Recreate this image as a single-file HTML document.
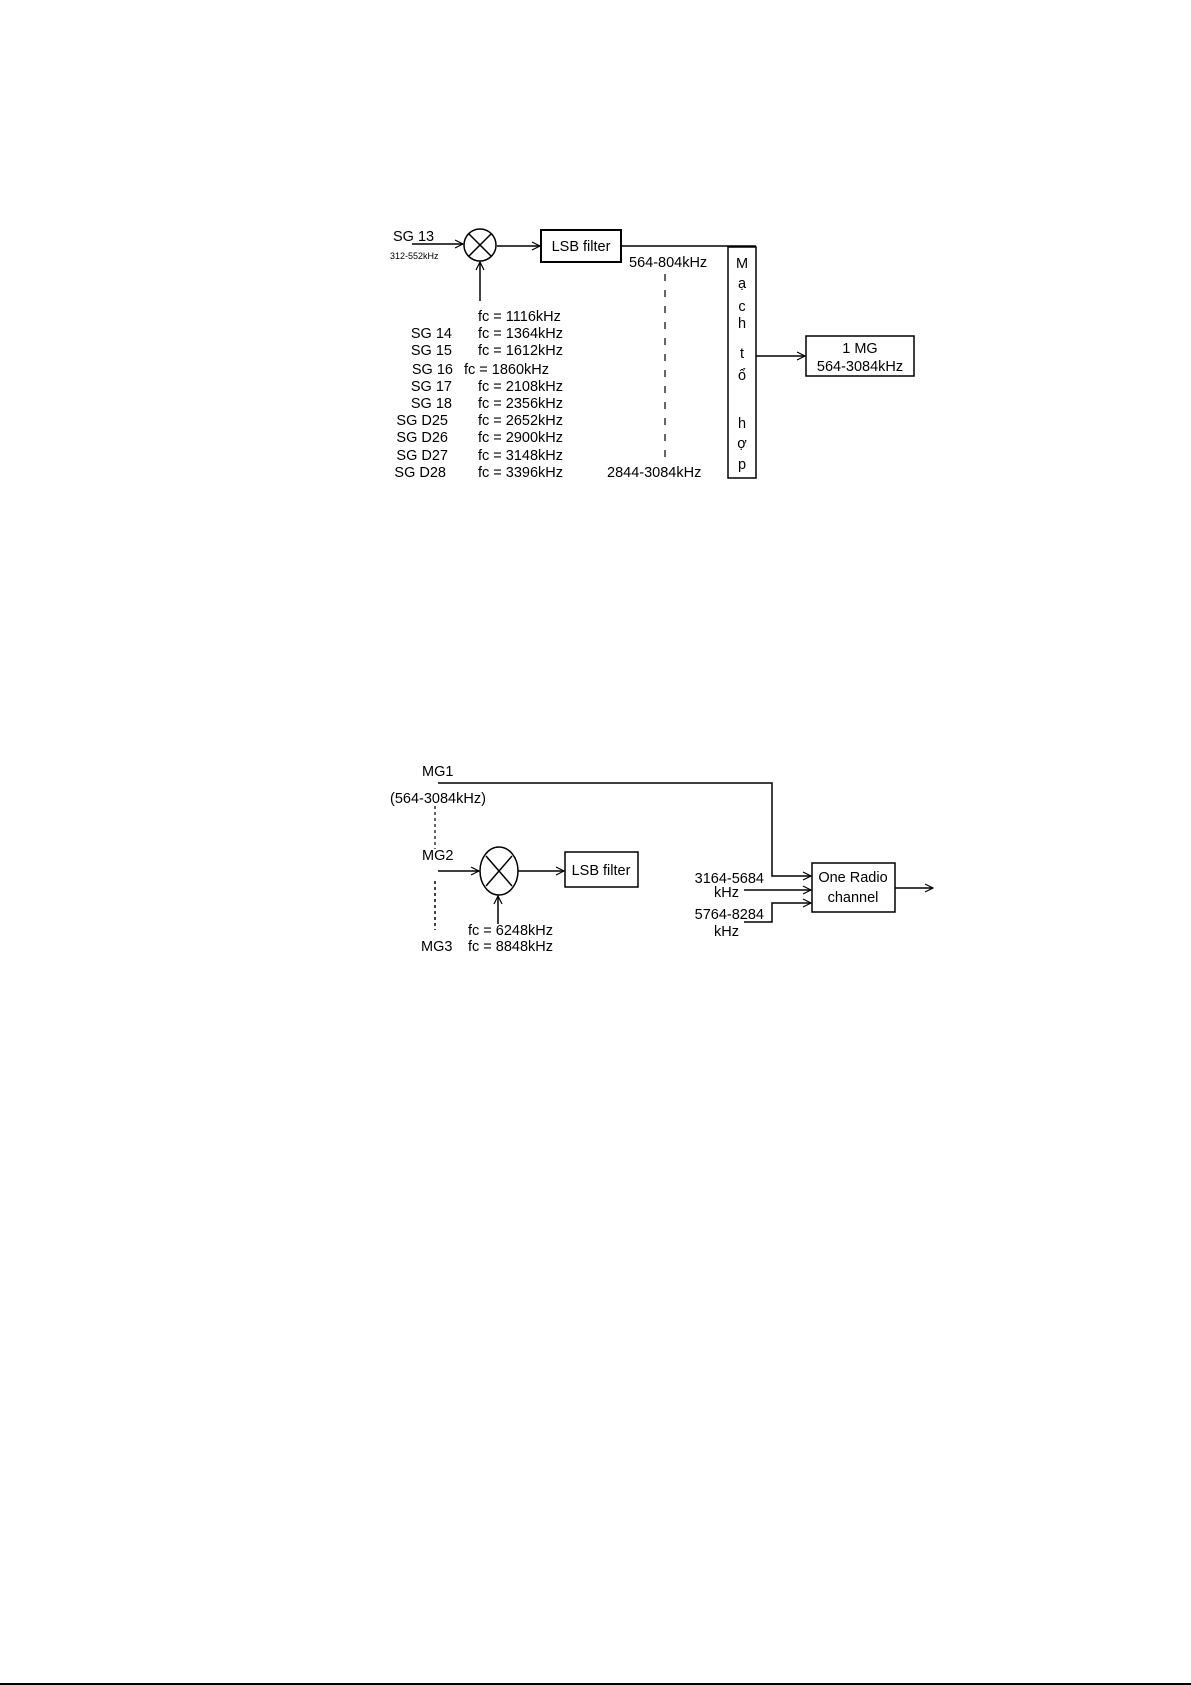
<!DOCTYPE html>
<html><head><meta charset="utf-8"><style>
html,body{margin:0;padding:0;background:#fff}
svg{display:block}
text{font-family:"Liberation Sans",sans-serif;fill:#000}
</style></head><body>
<svg width="1191" height="1685" viewBox="0 0 1191 1685" xmlns="http://www.w3.org/2000/svg">
<defs>
<marker id="a" markerWidth="10" markerHeight="10" refX="9" refY="5" orient="auto" markerUnits="userSpaceOnUse">
<path d="M1,1 L9,5 L1,9" fill="none" stroke="#000" stroke-width="1.2"/>
</marker>
</defs>
<g stroke="#000" stroke-width="1.5" fill="none">
<line x1="412" y1="244" x2="463" y2="244" marker-end="url(#a)"/>
<circle cx="480" cy="245" r="16"/>
<line x1="469" y1="234" x2="491" y2="256"/><line x1="491" y1="234" x2="469" y2="256"/>
<line x1="480" y1="301" x2="480" y2="262" marker-end="url(#a)"/>
<line x1="497" y1="246" x2="540" y2="246" marker-end="url(#a)"/>
<rect x="541" y="230" width="80" height="32" stroke-width="2"/>
<line x1="621" y1="246" x2="756" y2="246"/>
<rect x="728" y="247" width="28" height="231"/>
<line x1="665" y1="274" x2="665" y2="457" stroke-dasharray="7,9" stroke-width="1.2"/>
<line x1="756" y1="356" x2="805" y2="356" marker-end="url(#a)"/>
<rect x="806" y="336" width="108" height="40"/>
<polyline points="438,783 772,783 772,876 811,876" marker-end="url(#a)"/>
<line x1="435" y1="806" x2="435" y2="849" stroke-dasharray="3,3" stroke-width="1.2"/>
<line x1="435" y1="881" x2="435" y2="930" stroke-dasharray="3,3" stroke-width="1.5"/>
<line x1="438" y1="871" x2="479" y2="871" marker-end="url(#a)"/>
<ellipse cx="499" cy="871" rx="19" ry="24"/>
<line x1="486" y1="856" x2="512" y2="886"/><line x1="512" y1="856" x2="486" y2="886"/>
<line x1="518" y1="871" x2="564" y2="871" marker-end="url(#a)"/>
<rect x="565" y="852" width="73" height="35"/>
<line x1="498" y1="924" x2="498" y2="896" marker-end="url(#a)"/>
<rect x="812" y="863" width="83" height="49"/>
<line x1="744" y1="890" x2="811" y2="890" marker-end="url(#a)"/>
<polyline points="744,922 772,922 772,903 811,903" marker-end="url(#a)"/>
<line x1="895" y1="888" x2="933" y2="888" marker-end="url(#a)"/>
<line x1="0" y1="1684" x2="1191" y2="1684" stroke-width="2"/>
</g>
<g font-size="14.5">
<text x="393" y="241">SG 13</text>
<text x="390" y="259" font-size="9">312-552kHz</text>
<text x="581" y="251" text-anchor="middle">LSB filter</text>
<text x="629" y="267">564-804kHz</text>
<text x="607" y="477">2844-3084kHz</text>
<g text-anchor="middle">
<text x="742" y="268">M</text><text x="742" y="288">ạ</text><text x="742" y="311">c</text><text x="742" y="328">h</text>
<text x="742" y="358">t</text><text x="742" y="380">ổ</text><text x="742" y="428">h</text><text x="742" y="448">ợ</text><text x="742" y="469">p</text>
<text x="860" y="353">1 MG</text><text x="860" y="371">564-3084kHz</text>
</g>
<g>
<text x="478" y="321">fc = 1116kHz</text>
<text x="478" y="338">fc = 1364kHz</text>
<text x="478" y="355">fc = 1612kHz</text>
<text x="464" y="374">fc = 1860kHz</text>
<text x="478" y="391">fc = 2108kHz</text>
<text x="478" y="408">fc = 2356kHz</text>
<text x="478" y="425">fc = 2652kHz</text>
<text x="478" y="442">fc = 2900kHz</text>
<text x="478" y="460">fc = 3148kHz</text>
<text x="478" y="477">fc = 3396kHz</text>
</g>
<g text-anchor="end">
<text x="452" y="338">SG 14</text>
<text x="452" y="355">SG 15</text>
<text x="453" y="374">SG 16</text>
<text x="452" y="391">SG 17</text>
<text x="452" y="408">SG 18</text>
<text x="448" y="425">SG D25</text>
<text x="448" y="442">SG D26</text>
<text x="448" y="460">SG D27</text>
<text x="446" y="477">SG D28</text>
</g>
<text x="422" y="776">MG1</text>
<text x="390" y="803">(564-3084kHz)</text>
<text x="422" y="860">MG2</text>
<text x="421" y="951">MG3</text>
<text x="601" y="875" text-anchor="middle">LSB filter</text>
<text x="468" y="935">fc = 6248kHz</text>
<text x="468" y="951">fc = 8848kHz</text>
<text x="853" y="882" text-anchor="middle">One Radio</text>
<text x="853" y="902" text-anchor="middle">channel</text>
<text x="764" y="883" text-anchor="end">3164-5684</text>
<text x="739" y="897" text-anchor="end">kHz</text>
<text x="764" y="919" text-anchor="end">5764-8284</text>
<text x="739" y="936" text-anchor="end">kHz</text>
</g>
</svg>
</body></html>
